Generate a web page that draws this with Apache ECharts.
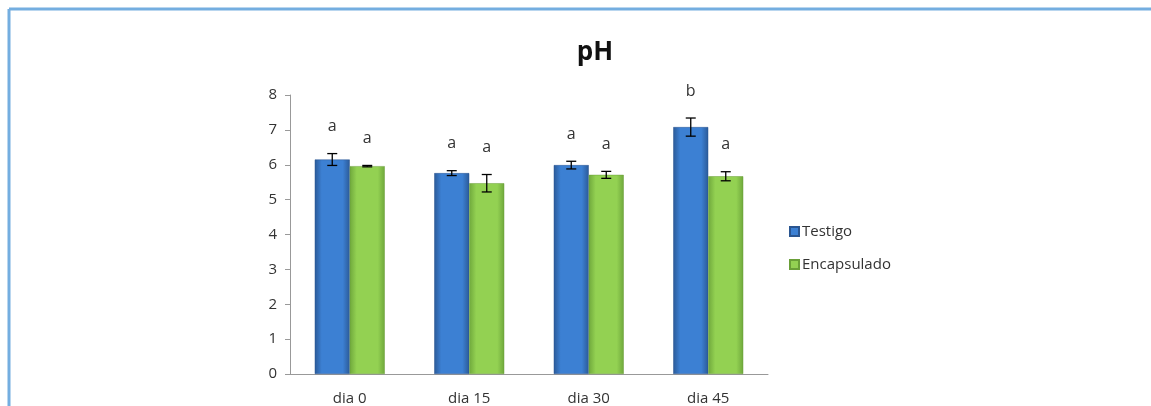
<!DOCTYPE html>
<html>
<head>
<meta charset="utf-8">
<script src="https://cdn.jsdelivr.net/npm/echarts@6/dist/echarts.min.js"></script>
<style>
  html, body { margin: 0; padding: 0; background: #fff; }
  #chart { width: 1151px; height: 406px; }
</style>
</head>
<body>
<div id="chart"></div>
<script>
const categories = ['dia 0', 'dia 15', 'dia 30', 'dia 45'];
const testigo = [6.15, 5.76, 5.99, 7.08];
const testigoErr = [0.17, 0.07, 0.11, 0.26];
const testigoLetters = ['a', 'a', 'a', 'b'];
const encapsulado = [5.96, 5.47, 5.71, 5.67];
const encapsuladoErr = [0.02, 0.25, 0.1, 0.13];
const encapsuladoLetters = ['a', 'a', 'a', 'a'];
const yTicks = [0, 1, 2, 3, 4, 5, 6, 7, 8];

const BAR_W = 35;
const FONT = '"Open Sans", Lato, sans-serif';

function barGrad(edge, mid) {
  return new echarts.graphic.LinearGradient(0, 0, 1, 0, [
    { offset: 0, color: edge },
    { offset: 0.2, color: mid },
    { offset: 0.8, color: mid },
    { offset: 1, color: edge }
  ]);
}

// error bar + letter above it, shifted left/right of the category centre
function errorSeries(name, values, errs, letters, shift) {
  return {
    type: 'custom',
    name: name + '-err',
    z: 5,
    data: values.map((v, i) => [i, v, errs[i]]),
    renderItem: function (params, api) {
      const x = api.coord([api.value(0), 0])[0] + shift;
      const v = api.value(1), e = api.value(2);
      const hi = api.coord([api.value(0), v + e])[1];
      const lo = api.coord([api.value(0), v - e])[1];
      const st = { stroke: '#000', lineWidth: 1.3 };
      return {
        type: 'group',
        children: [
          { type: 'line', shape: { x1: x, y1: hi, x2: x, y2: lo }, style: st },
          { type: 'line', shape: { x1: x - 5, y1: hi, x2: x + 5, y2: hi }, style: st },
          { type: 'line', shape: { x1: x - 5, y1: lo, x2: x + 5, y2: lo }, style: st },
          {
            type: 'text',
            x: x, y: hi - 27,
            style: {
              text: letters[params.dataIndex],
              fill: '#333', font: '16px ' + FONT,
              align: 'center', verticalAlign: 'middle'
            }
          }
        ]
      };
    }
  };
}

const chart = echarts.init(document.getElementById('chart'));
chart.setOption({
  animation: false,
  backgroundColor: '#fff',
  title: {
    text: 'pH',
    left: 590, top: 35,
    textAlign: 'center',
    textStyle: { fontSize: 26, fontWeight: 'bold', color: '#111', fontFamily: FONT }
  },
  graphic: [
    { type: 'line', shape: { x1: 9, y1: 9, x2: 1151, y2: 9 }, style: { stroke: '#74aee0', lineWidth: 3 } },
    { type: 'line', shape: { x1: 9, y1: 9, x2: 9, y2: 406 }, style: { stroke: '#74aee0', lineWidth: 3 } }
  ],
  legend: {
    orient: 'vertical',
    left: 784, top: 219,
    itemWidth: 9, itemHeight: 9, itemGap: 18,
    icon: 'rect',
    data: ['Testigo', 'Encapsulado'],
    textStyle: { fontSize: 15, color: '#333', fontFamily: FONT, padding: [0, 0, 0, -2] }
  },
  grid: { left: 290, right: 383, top: 95, bottom: 32 },
  xAxis: {
    type: 'category',
    data: categories,
    axisTick: { show: false },
    axisLine: { lineStyle: { color: '#999' } },
    axisLabel: { fontSize: 15, color: '#333', margin: 17, fontFamily: FONT }
  },
  yAxis: {
    type: 'value',
    min: yTicks[0], max: yTicks[yTicks.length - 1], interval: 1,
    splitLine: { show: false },
    axisLine: { show: true, lineStyle: { color: '#999' } },
    axisTick: { show: true, length: 5, lineStyle: { color: '#999' } },
    axisLabel: { fontSize: 15, color: '#333', margin: 13, fontFamily: FONT }
  },
  series: [
    {
      name: 'Testigo', type: 'bar', data: testigo,
      barWidth: BAR_W, barGap: '0%',
      itemStyle: { color: barGrad('#2b5a98', '#3c80d3'), borderColor: '#2a5590', borderWidth: 0.5 }
    },
    {
      name: 'Encapsulado', type: 'bar', data: encapsulado,
      barWidth: BAR_W, barGap: '0%',
      itemStyle: { color: barGrad('#6fa83c', '#93d152'), borderColor: '#6a9f38', borderWidth: 0.5 }
    },
    errorSeries('Testigo', testigo, testigoErr, testigoLetters, -BAR_W / 2),
    errorSeries('Encapsulado', encapsulado, encapsuladoErr, encapsuladoLetters, BAR_W / 2)
  ]
});
</script>
</body>
</html>
